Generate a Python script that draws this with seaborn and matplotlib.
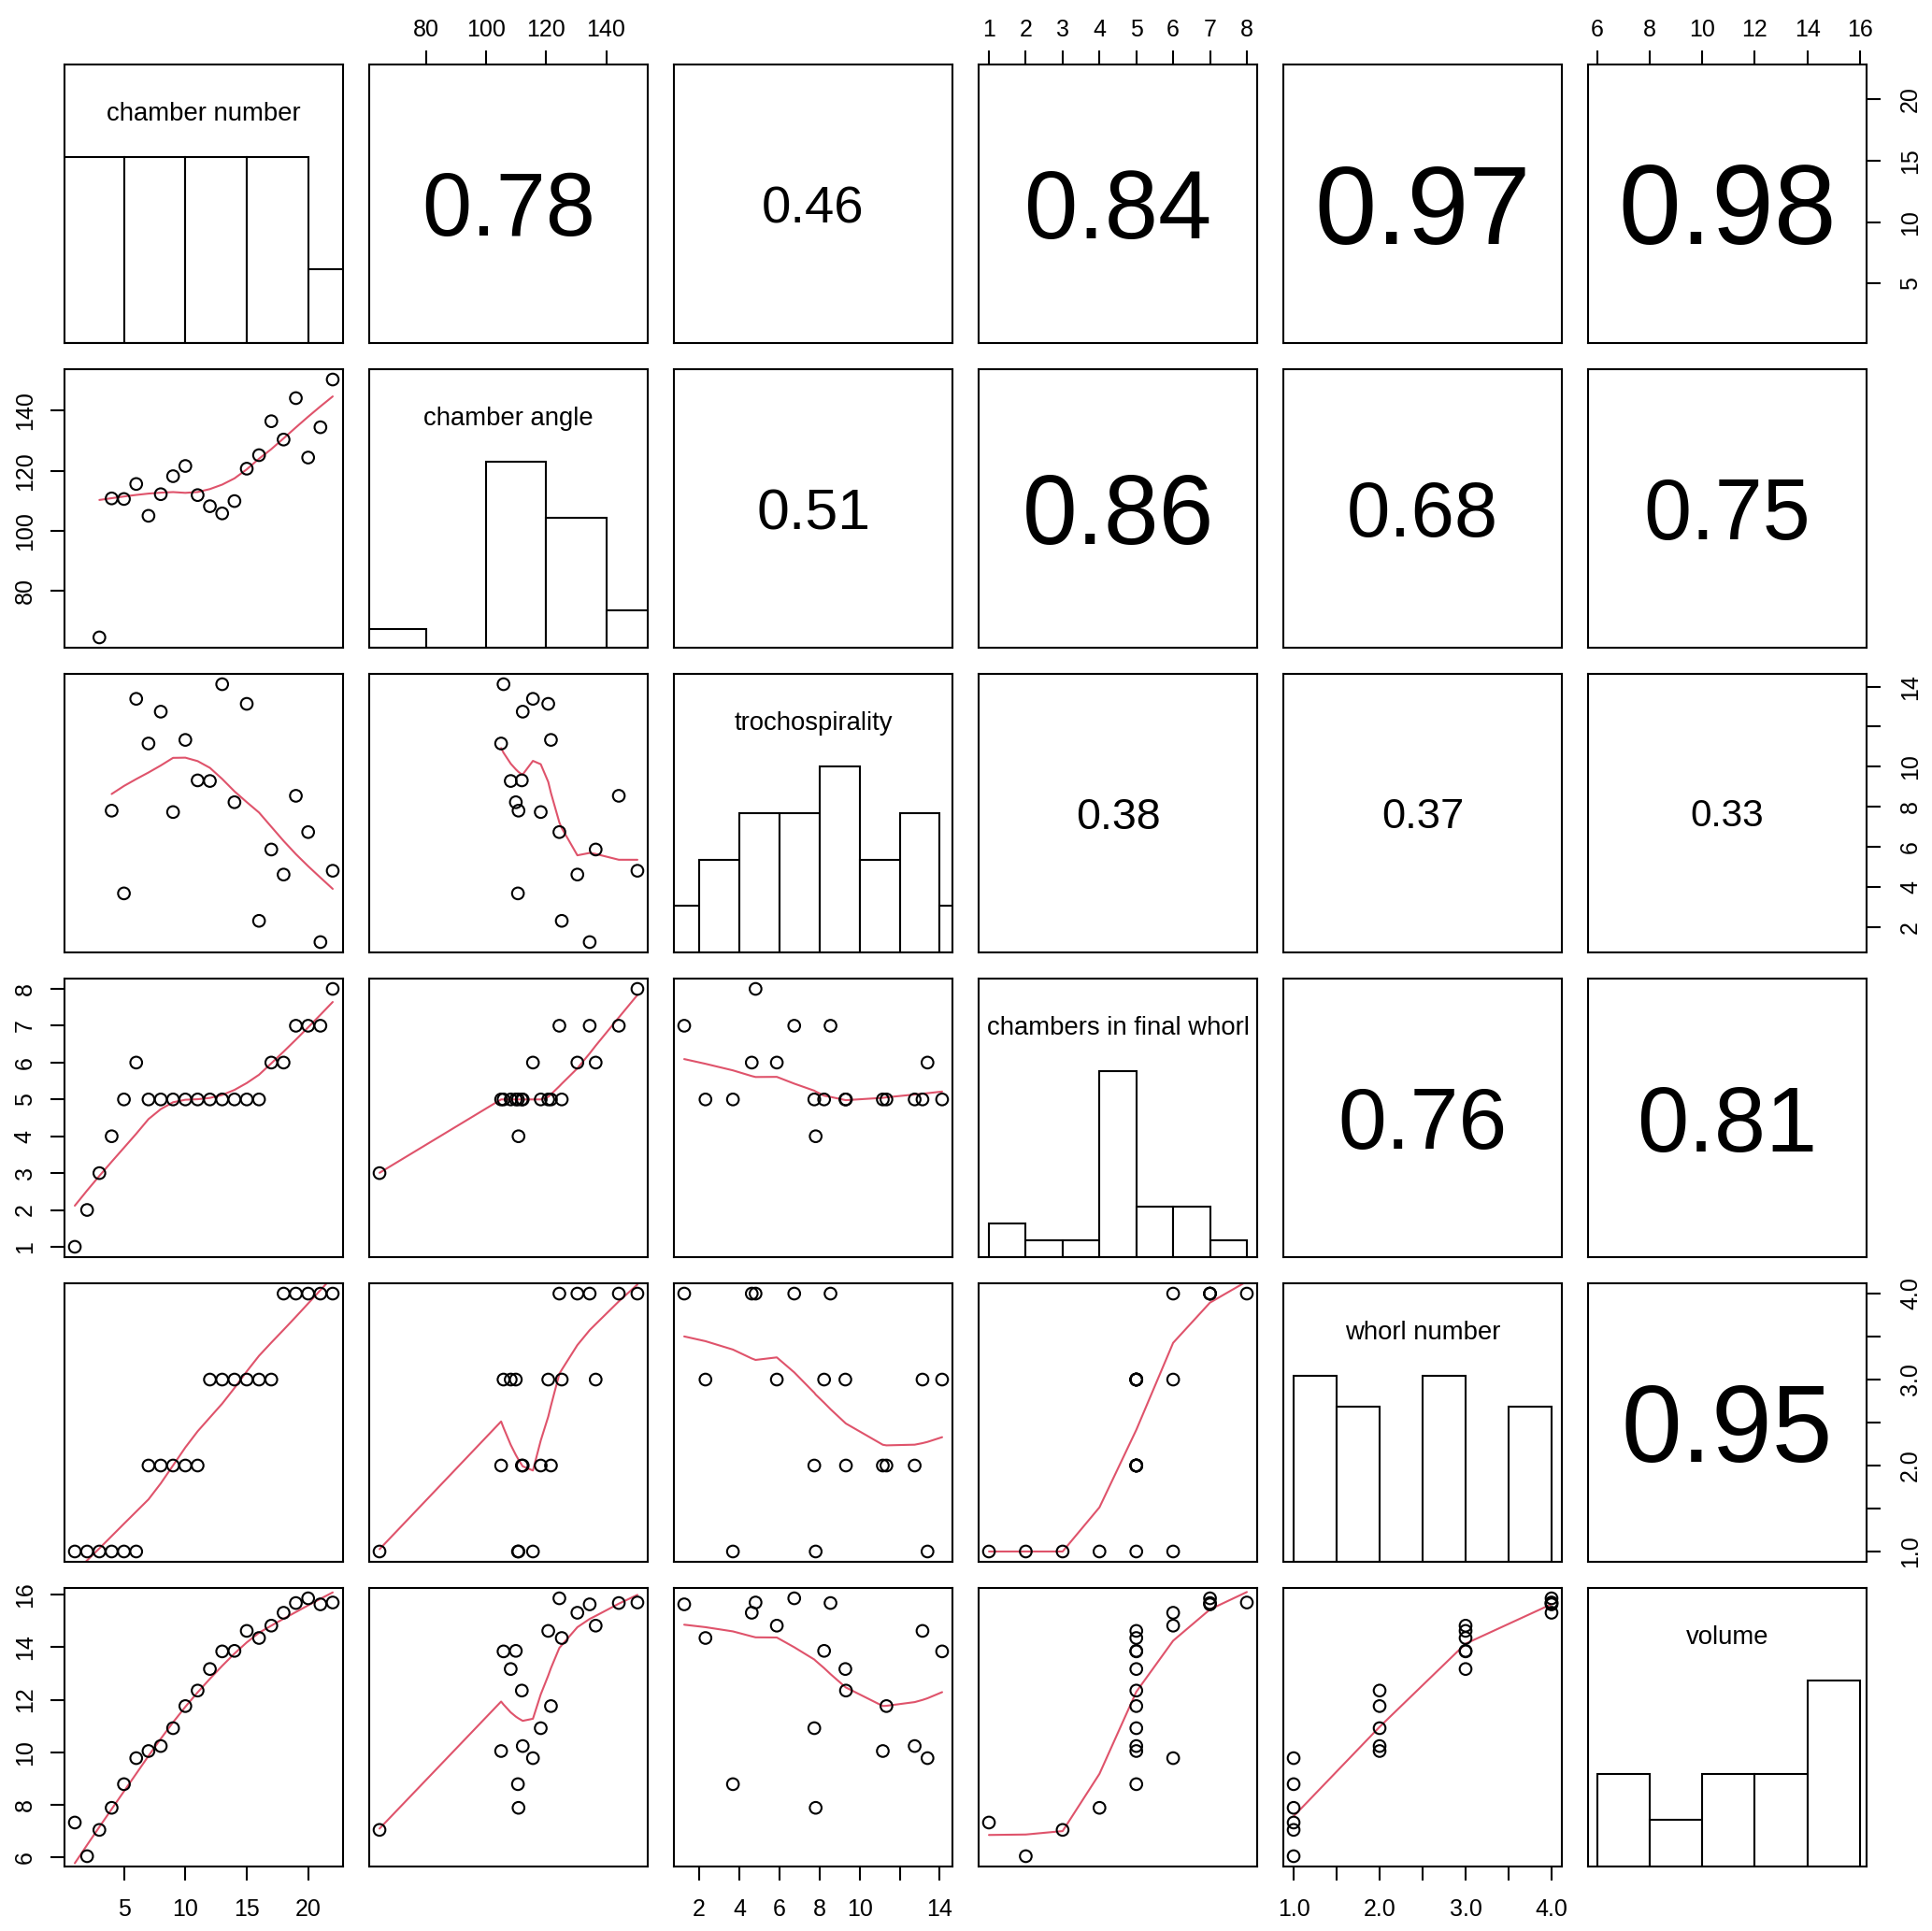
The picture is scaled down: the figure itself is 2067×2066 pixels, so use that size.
import numpy as np
import matplotlib
matplotlib.use("Agg")
import matplotlib.pyplot as plt
import matplotlib.transforms as mtransforms
import seaborn as sns

nan = np.nan

# ---------------- data ----------------
var_names = ["chamber number", "chamber angle", "trochospirality",
             "chambers in final whorl", "whorl number", "volume"]

chamber_number = [1, 2, 3, 4, 5, 6, 7, 8, 9, 10, 11, 12, 13, 14, 15, 16, 17, 18, 19, 20, 21, 22]
chamber_angle = [nan, nan, 64.5, 110.8, 110.6, 115.6, 105.0, 112.2, 118.2, 121.6, 111.9,
                 108.2, 105.8, 109.9, 120.7, 125.2, 136.5, 130.4, 144.2, 124.4, 134.5, 150.4]
trochospirality = [nan, nan, nan, 7.81, 3.68, 13.39, 11.16, 12.75, 7.74, 11.34, 9.32,
                   9.29, 14.12, 8.23, 13.14, 2.31, 5.87, 4.62, 8.55, 6.74, 1.25, 4.81]
chambers_final_whorl = [1, 2, 3, 4, 5, 6, 5, 5, 5, 5, 5, 5, 5, 5, 5, 5, 6, 6, 7, 7, 7, 8]
whorl_number = [1, 1, 1, 1, 1, 1, 2, 2, 2, 2, 2, 3, 3, 3, 3, 3, 3, 4, 4, 4, 4, 4]
volume = [7.33, 6.05, 7.05, 7.89, 8.79, 9.78, 10.05, 10.24, 10.92, 11.76, 12.35,
          13.17, 13.84, 13.86, 14.62, 14.35, 14.82, 15.31, 15.68, 15.86, 15.63, 15.70]

# |r| shown in the upper panels, row by row
cor_labels = ["0.78", "0.46", "0.84", "0.97", "0.98",
              "0.51", "0.86", "0.68", "0.75",
              "0.38", "0.37", "0.33",
              "0.76", "0.81",
              "0.95"]

hist_breaks = [
    [0, 5, 10, 15, 20, 25],
    [60, 80, 100, 120, 140, 160],
    [0, 2, 4, 6, 8, 10, 12, 14, 16],
    [1, 2, 3, 4, 5, 6, 7, 8],
    [1.0, 1.5, 2.0, 2.5, 3.0, 3.5, 4.0],
    [6, 8, 10, 12, 14, 16],
]

tick_values = [
    [5, 10, 15, 20],
    [80, 100, 120, 140],
    [2, 4, 6, 8, 10, 12, 14],
    [1, 2, 3, 4, 5, 6, 7, 8],
    [1.0, 1.5, 2.0, 2.5, 3.0, 3.5, 4.0],
    [6, 8, 10, 12, 14, 16],
]
tick_labels = [
    ["5", "10", "15", "20"],
    ["80", "100", "120", "140"],
    ["2", "4", "6", "8", "10", "", "14"],
    ["1", "2", "3", "4", "5", "6", "7", "8"],
    ["1.0", "", "2.0", "", "3.0", "", "4.0"],
    ["6", "8", "10", "12", "14", "16"],
]

data = [np.array(v, dtype=float) for v in
        [chamber_number, chamber_angle, trochospirality,
         chambers_final_whorl, whorl_number, volume]]


# ---------------- R's lowess (clowess port) ----------------
def _lowest(X, Y, n, xs, nleft, nright, w, userw, rw):
    rng = X[n] - X[1]
    h = max(xs - X[nleft], X[nright] - xs)
    h9 = 0.999 * h
    h1 = 0.001 * h
    a = 0.0
    j = nleft
    while j <= n:
        w[j] = 0.0
        r = abs(X[j] - xs)
        if r <= h9:
            if r <= h1:
                w[j] = 1.0
            else:
                w[j] = (1.0 - (r / h) ** 3) ** 3
            if userw:
                w[j] *= rw[j]
            a += w[j]
        elif X[j] > xs:
            break
        j += 1
    nrt = j - 1
    if a <= 0.0:
        return None
    for j in range(nleft, nrt + 1):
        w[j] /= a
    if h > 0.0:
        a = 0.0
        for j in range(nleft, nrt + 1):
            a += w[j] * X[j]
        b = xs - a
        c = 0.0
        for j in range(nleft, nrt + 1):
            c += w[j] * (X[j] - a) * (X[j] - a)
        if np.sqrt(c) > 0.001 * rng:
            b /= c
            for j in range(nleft, nrt + 1):
                w[j] *= (b * (X[j] - a) + 1.0)
    ys = 0.0
    for j in range(nleft, nrt + 1):
        ys += w[j] * Y[j]
    return ys


def r_lowess(x, y, f=2 / 3, nsteps=3):
    x = np.asarray(x, float)
    y = np.asarray(y, float)
    o = np.argsort(x, kind="stable")
    x = x[o]
    y = y[o]
    n = len(x)
    delta = 0.01 * (x[-1] - x[0])
    X = np.concatenate([[0.0], x])
    Y = np.concatenate([[0.0], y])
    YS = np.zeros(n + 1)
    rw = np.zeros(n + 1)
    w = np.zeros(n + 1)
    ns = max(2, min(n, int(f * n + 1e-7)))
    it = 1
    while it <= nsteps + 1:
        nleft, nright, last, i = 1, ns, 0, 1
        while True:
            if nright < n:
                d1 = X[i] - X[nleft]
                d2 = X[nright + 1] - X[i]
                if d1 > d2:
                    nleft += 1
                    nright += 1
                    continue
            val = _lowest(X, Y, n, X[i], nleft, nright, w, it > 1, rw)
            YS[i] = Y[i] if val is None else val
            if last < i - 1:
                denom = X[i] - X[last]
                for j in range(last + 1, i):
                    alpha = (X[j] - X[last]) / denom
                    YS[j] = alpha * YS[i] + (1.0 - alpha) * YS[last]
            last = i
            cut = X[last] + delta
            i = last + 1
            while i <= n:
                if X[i] > cut:
                    break
                if X[i] == X[last]:
                    YS[i] = YS[last]
                    last = i
                i += 1
            i = max(last + 1, i - 1)
            if last >= n:
                break
        res = Y[1:] - YS[1:]
        sc = np.mean(np.abs(res))
        if it > nsteps:
            break
        ar = np.abs(res)
        srt = np.sort(ar)
        m1 = n // 2
        if n % 2 == 0:
            m2 = n - m1 - 1
            cmad = 3.0 * (srt[m1] + srt[m2])
        else:
            cmad = 6.0 * srt[m1]
        if cmad < 1e-7 * sc:
            break
        c9, c1 = 0.999 * cmad, 0.001 * cmad
        rw[1:] = np.where(ar <= c1, 1.0,
                          np.where(ar <= c9, (1.0 - (ar / cmad) ** 2) ** 2, 0.0))
        it += 1
    return x, YS[1:]


def r_hist_counts(v, breaks):
    v = v[np.isfinite(v)]
    idx = np.searchsorted(breaks, v, side="left") - 1
    idx = np.clip(idx, 0, len(breaks) - 2)
    return np.bincount(idx, minlength=len(breaks) - 1)


# ---------------- figure ----------------
sns.set_style("white")
plt.rcParams["font.family"] = ["Liberation Sans", "DejaVu Sans"]
plt.rcParams["text.color"] = "black"
plt.rcParams["axes.labelcolor"] = "black"
plt.rcParams["xtick.color"] = "black"
plt.rcParams["ytick.color"] = "black"

W, H, DPI = 2067, 2066, 100
PT = 72.0 / DPI            # points per pixel
fig = plt.figure(figsize=(W / DPI, H / DPI), dpi=DPI)
fig.patch.set_facecolor("white")

LEFT0, TOP0, SIZE, STEP = 69, 69, 298, 326
NV = len(data)
RED = "#DF536B"
TICK_FS = 18
LABEL_FS = 19.8

lims = []
for v in data:
    mn, mx = np.nanmin(v), np.nanmax(v)
    d = 0.04 * (mx - mn)
    lims.append((mn - d, mx + d))

cor_iter = iter(cor_labels)
for i in range(NV):
    for j in range(NV):
        x0 = LEFT0 + j * STEP
        y0 = TOP0 + i * STEP
        ax = fig.add_axes([x0 / W, (H - y0 - SIZE) / H, SIZE / W, SIZE / H])
        ax.set_facecolor("white")
        xv, yv = data[j], data[i]

        if i == j:
            br = hist_breaks[i]
            counts = r_hist_counts(xv, np.array(br, float))
            mids = [(br[k] + br[k + 1]) / 2 for k in range(len(br) - 1)]
            sns.histplot(x=mids, weights=counts / counts.max(), bins=br, ax=ax,
                         stat="count", color="white", edgecolor="black",
                         linewidth=1.5, alpha=1.0, legend=False)
            ax.set_xlim(*lims[j])
            ax.set_ylim(0, 1.5)
            ax.text(0.5, 0.832, var_names[i], ha="center", va="baseline",
                    fontsize=LABEL_FS, color="black",
                    transform=mtransforms.offset_copy(ax.transAxes, fig=fig, x=0,
                                                      y=-0.358 * LABEL_FS, units="points"))
        elif i > j:
            ok = np.isfinite(xv) & np.isfinite(yv)
            sns.scatterplot(x=xv[ok], y=yv[ok], ax=ax, marker="o", s=82,
                            facecolor="none", edgecolor="black", linewidth=1.5,
                            legend=False, zorder=3)
            coll = ax.collections[-1]
            coll.set_facecolor("none")
            coll.set_edgecolor("black")
            coll.set_linewidth(1.5)
            lx, ly = r_lowess(xv[ok], yv[ok])
            sns.lineplot(x=lx, y=ly, ax=ax, sort=False, estimator=None,
                         color=RED, linewidth=1.5, legend=False, zorder=2)
            ax.set_xlim(*lims[j])
            ax.set_ylim(*lims[i])
        else:
            lab = next(cor_iter)
            r = float(lab)
            fs = 0.8 * r * SIZE / 1.946 * PT
            ax.text(0.5, 0.5, lab, ha="center", va="baseline", fontsize=fs,
                    color="black",
                    transform=mtransforms.offset_copy(ax.transAxes, fig=fig, x=0,
                                                      y=-0.358 * fs, units="points"))
            ax.set_xlim(*lims[j])
            ax.set_ylim(*lims[i])

        ax.set_xlabel("")
        ax.set_ylabel("")
        for sp in ax.spines.values():
            sp.set_visible(True)
            sp.set_linewidth(1.5)
            sp.set_color("black")

        show_bottom = (i == NV - 1) and (j % 2 == 0)
        show_top = (i == 0) and (j % 2 == 1)
        show_left = (j == 0) and (i % 2 == 1)
        show_right = (j == NV - 1) and (i % 2 == 0)

        ax.tick_params(axis="both", which="both", direction="out",
                       length=15 * PT, width=1.5, color="black",
                       labelsize=TICK_FS, labelcolor="black",
                       bottom=show_bottom, top=show_top,
                       left=show_left, right=show_right,
                       labelbottom=show_bottom, labeltop=show_top,
                       labelleft=show_left, labelright=show_right)
        if show_bottom or show_top:
            ax.set_xticks(tick_values[j], tick_labels[j])
            ax.xaxis.set_tick_params(pad=(14.0 if show_bottom else 7.5))
        else:
            ax.set_xticks([])
        if show_left or show_right:
            ax.set_yticks(tick_values[i], tick_labels[i], rotation=90, va="center")
            ax.yaxis.set_tick_params(pad=(11.0 if show_left else 14.5))
        else:
            ax.set_yticks([])
        if i == j:
            ax.set_ylim(0, 1.5)
            ax.set_xlim(*lims[j])
        else:
            ax.set_xlim(*lims[j])
            ax.set_ylim(*lims[i])

fig.savefig("out.png", dpi=DPI, facecolor="white")
